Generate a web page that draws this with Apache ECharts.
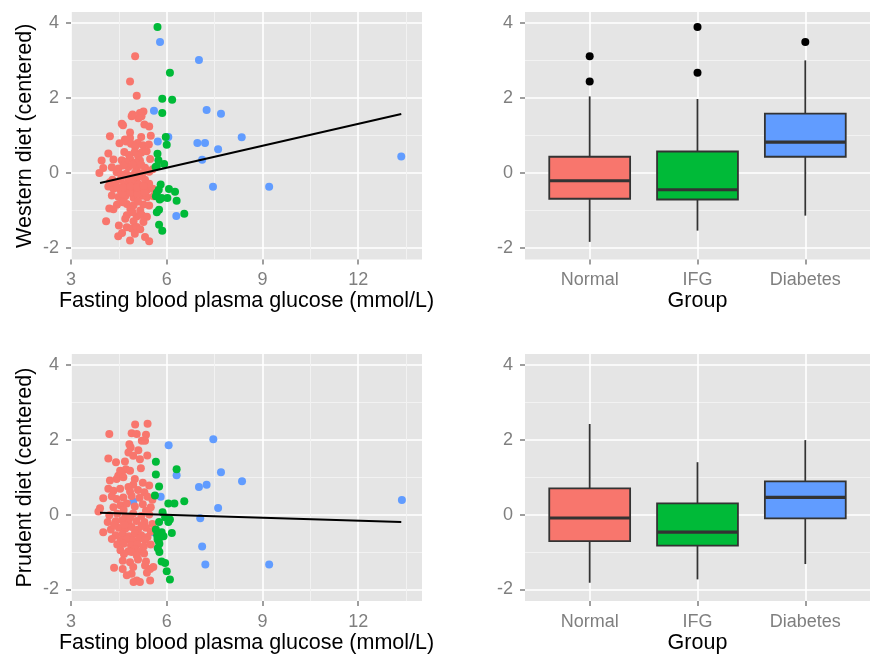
<!DOCTYPE html>
<html>
<head>
<meta charset="utf-8">
<script src="https://cdn.jsdelivr.net/npm/echarts@6/dist/echarts.min.js"></script>
<style>
html, body { margin: 0; padding: 0; background: #fff; }
#chart { width: 870px; height: 655px; }
</style>
</head>
<body>
<div id="chart"></div>
<script>
// groups + ggplot default hues
const groups = ['Normal', 'IFG', 'Diabetes']
const groupColors = ['#F8766D', '#00BA38', '#619CFF']

// tick labels
const glucoseTicks = [3, 6, 9, 12]
const glucoseMinor = [4.5, 7.5, 10.5, 13.5]
const dietTicks = [-2, 0, 2, 4]
const dietMinor = [-1, 1, 3]
const groupTicks = [1, 2, 3]

// Western diet vs glucose, [glucose, score]
const westernNormal = [
  [5.01, 3.11], [4.85, 2.44], [5.06, 2.06],
  [5.27, 1.64], [5.16, 1.60], [4.90, 1.51], [5.21, 1.51], [5.11, 1.46], [4.93, 1.56],
  [4.59, 1.31], [5.30, 1.29], [5.45, 1.24], [4.63, 1.27],
  [4.85, 1.08], [4.22, 0.98], [4.69, 0.89], [4.85, 0.93], [5.20, 0.96], [5.50, 0.99],
  [4.52, 0.79], [4.73, 0.84], [4.88, 0.78], [5.09, 0.80], [5.25, 0.74], [5.44, 0.76], [5.01, 0.70],
  [4.17, 0.52], [4.67, 0.56], [4.99, 0.55], [5.20, 0.54], [5.37, 0.58], [4.82, 0.48], [5.10, 0.46],
  [3.96, 0.33], [4.33, 0.36], [4.59, 0.34], [4.85, 0.38], [5.16, 0.33], [5.48, 0.37], [4.72, 0.30], [5.02, 0.28],
  [4.01, 0.13], [4.28, 0.15], [4.49, 0.12], [4.80, 0.16], [5.06, 0.12], [5.32, 0.14], [5.56, 0.10], [4.64, 0.20], [4.93, 0.22], [5.20, 0.22],
  [3.89, 0.00], [4.43, 0.02], [4.73, -0.02], [5.01, 0.01], [5.24, -0.01], [5.45, 0.03], [4.58, -0.05], [4.88, -0.08],
  [4.30, -0.18], [4.56, -0.17], [4.80, -0.19], [5.06, -0.16], [5.32, -0.18], [5.13, -0.10],
  [4.17, -0.36], [4.33, -0.42], [4.54, -0.45], [4.75, -0.43], [4.96, -0.47], [5.17, -0.44], [5.38, -0.46], [5.56, -0.42],
  [4.40, -0.28], [4.66, -0.30], [4.90, -0.27], [5.12, -0.31], [5.45, -0.29], [4.22, -0.25],
  [4.28, -0.60], [4.49, -0.64], [4.70, -0.62], [4.96, -0.66], [5.22, -0.61], [5.38, -0.65], [5.59, -0.62],
  [4.60, -0.55], [4.85, -0.53], [5.08, -0.56], [5.30, -0.52],
  [4.44, -0.37], [4.64, -0.39], [4.86, -0.36], [5.07, -0.38], [5.28, -0.35],
  [4.44, -0.85], [4.75, -0.83], [4.96, -0.86], [5.27, -0.84], [5.45, -0.87], [4.62, -0.78], [5.10, -0.76],
  [4.20, -0.95], [4.33, -0.97], [4.86, -0.96], [5.17, -1.00],
  [4.75, -1.13], [5.06, -1.16], [5.22, -1.12], [5.38, -1.17], [4.93, -1.05],
  [4.10, -1.29], [4.96, -1.29], [5.27, -1.31], [4.70, -1.22],
  [4.75, -1.45], [4.90, -1.48], [5.06, -1.44], [5.17, -1.50], [4.50, -1.40],
  [4.48, -1.69], [4.85, -1.80], [5.32, -1.71], [5.45, -1.82], [4.60, -1.60], [5.00, -1.62]
]
const westernIFG = [
  [5.71, 3.89], [6.10, 2.67], [5.86, 1.98], [6.17, 1.95], [5.86, 1.60],
  [5.97, 0.96], [6.00, 0.75], [5.71, 0.51], [5.74, 0.34], [5.92, 0.24], [5.65, 0.16], [5.69, 0.18],
  [5.81, -0.31], [6.07, -0.43], [6.26, -0.50], [5.69, -0.53], [5.66, -0.62], [5.84, -0.67], [6.02, -0.67],
  [5.75, -0.45], [6.31, -0.74], [5.78, -0.71], [6.55, -1.09], [5.76, -0.98], [5.69, -1.05],
  [5.76, -1.38], [5.86, -1.54]
]
const westernDiabetes = [
  [5.79, 3.49], [7.01, 3.01], [5.60, 1.66], [7.25, 1.68], [7.70, 1.58],
  [5.72, 0.84], [6.05, 0.96], [6.96, 0.80], [7.20, 0.80], [8.35, 0.95], [7.61, 0.63],
  [7.11, 0.35], [13.35, 0.44], [7.45, -0.37], [9.21, -0.37], [6.30, -1.15]
]
const westernFitX = [3.91, 13.35]
const westernFitY = [-0.27, 1.57]

// Prudent diet vs glucose
const prudentNormal = [
  [5.40, 2.43], [5.01, 2.41], [4.20, 2.15], [4.90, 2.17], [5.06, 2.15], [5.35, 2.13], [5.22, 1.97], [5.32, 1.97],
  [4.83, 1.88], [4.87, 1.79], [5.11, 1.72], [5.39, 1.58], [4.80, 1.66], [4.95, 1.57], [5.16, 1.48], [4.17, 1.50],
  [4.41, 1.40], [4.69, 1.42], [5.19, 1.24], [4.54, 1.17], [4.72, 1.21], [4.85, 1.17], [4.48, 1.04], [4.59, 1.09],
  [4.22, 0.91], [4.43, 0.95], [4.64, 1.00], [5.00, 0.95], [5.25, 0.85], [4.95, 0.80], [5.45, 0.78], [4.80, 0.74],
  [4.17, 0.69], [4.33, 0.64], [4.54, 0.69], [4.85, 0.62], [5.10, 0.66], [5.30, 0.60],
  [4.01, 0.44], [4.28, 0.49], [4.43, 0.42], [4.64, 0.46], [4.90, 0.50], [5.15, 0.45], [5.40, 0.48], [5.55, 0.40],
  [3.91, 0.17], [4.33, 0.20], [4.55, 0.25], [4.75, 0.30], [5.00, 0.22], [5.25, 0.28], [5.50, 0.20], [4.65, 0.12],
  [3.86, 0.08], [4.20, -0.02], [4.45, 0.02], [4.70, -0.05], [4.95, 0.03], [5.20, -0.04], [5.45, 0.00], [4.85, -0.08], [5.35, 0.10],
  [4.15, -0.20], [4.40, -0.18], [4.60, -0.15], [4.80, -0.22], [5.05, -0.17], [5.30, -0.20], [5.55, -0.25],
  [4.01, -0.47], [4.25, -0.40], [4.50, -0.35], [4.70, -0.38], [4.90, -0.33], [5.10, -0.40], [5.35, -0.35], [5.50, -0.45],
  [4.40, -0.55], [4.62, -0.52], [4.82, -0.58], [5.00, -0.50], [5.20, -0.55], [5.40, -0.60],
  [4.28, -0.65], [4.55, -0.68], [4.75, -0.66], [4.95, -0.69], [5.15, -0.64], [5.32, -0.68], [4.68, -0.28], [5.22, -0.30], [4.35, -0.28],
  [4.45, -0.80], [4.65, -0.78], [4.88, -0.82], [5.08, -0.79], [5.28, -0.85], [5.50, -0.80],
  [4.55, -0.95], [4.80, -0.98], [5.00, -0.92], [5.20, -0.97],
  [4.66, -1.05], [4.90, -1.00], [5.06, -1.09], [5.29, -1.04],
  [4.62, -1.23], [4.85, -1.27], [5.10, -1.20], [5.35, -1.25],
  [4.35, -1.42], [4.62, -1.45], [5.32, -1.36], [5.48, -1.45], [5.58, -1.40], [4.95, -1.40],
  [4.90, -1.58], [5.06, -1.76], [5.48, -1.76], [4.96, -1.80], [5.16, -1.80], [5.38, -1.55], [4.75, -1.62]
]
const prudentIFG = [
  [5.66, 1.41], [6.31, 1.21], [5.66, 1.07], [5.76, 0.75], [5.63, 0.51],
  [6.05, 0.30], [6.24, 0.30], [6.55, 0.36], [5.87, 0.06], [5.95, -0.07], [6.05, -0.20], [5.76, -0.20], [6.10, -0.13],
  [5.84, -0.47], [6.16, -0.49], [5.66, -0.40], [5.70, -0.55], [5.80, -0.60], [5.74, -0.70], [5.90, -0.58],
  [5.71, -0.65], [5.77, -0.78], [5.72, -0.90], [5.77, -1.00],
  [5.84, -1.25], [5.95, -1.29], [6.00, -1.51], [6.10, -1.73]
]
const prudentDiabetes = [
  [7.46, 2.01], [6.06, 1.85], [7.70, 1.13], [6.31, 1.05], [8.36, 0.89], [7.01, 0.74], [7.25, 0.80],
  [5.81, 0.48], [13.37, 0.39], [7.61, 0.18], [4.95, 0.35], [7.05, -0.10], [5.58, -0.47],
  [7.11, -0.85], [7.21, -1.33], [9.21, -1.33]
]
const prudentFitX = [3.91, 13.35]
const prudentFitY = [0.05, -0.20]

// boxplot stats per group: [lower whisker, Q1, median, Q3, upper whisker]
const westernBoxNormal = [-1.84, -0.69, -0.21, 0.43, 2.04]
const westernBoxIFG = [-1.54, -0.71, -0.45, 0.57, 1.97]
const westernBoxDiabetes = [-1.14, 0.43, 0.82, 1.58, 3.00]
const westernOutliers = [[1, 3.11], [1, 2.44], [2, 3.89], [2, 2.67], [3, 3.49]]

const prudentBoxNormal = [-1.82, -0.71, -0.09, 0.70, 2.42]
const prudentBoxIFG = [-1.73, -0.83, -0.47, 0.30, 1.40]
const prudentBoxDiabetes = [-1.32, -0.10, 0.46, 0.89, 1.99]

const font = "'Liberation Sans', Arial, Helvetica, sans-serif"
const tickGrey = '#7F7F7F'

function majorAxis (gridIndex, min, max, ticks, extra) {
  return Object.assign({
    type: 'value',
    gridIndex: gridIndex,
    min: min,
    max: max,
    axisLine: { show: false, onZero: false },
    axisTick: { show: true, length: 5, customValues: ticks, lineStyle: { color: tickGrey, width: 1.5 } },
    axisLabel: { customValues: ticks, margin: 12, color: tickGrey, fontSize: 18, fontFamily: font },
    splitLine: { show: true, lineStyle: { color: '#FFFFFF', width: 1.6 } },
    nameLocation: 'middle',
    nameTextStyle: { color: '#000', fontSize: 21.5, fontFamily: font }
  }, extra || {})
}

function minorAxis (gridIndex, min, max, ticks) {
  return {
    type: 'value',
    gridIndex: gridIndex,
    min: min,
    max: max,
    axisLine: { show: false, onZero: false },
    axisTick: { show: false, customValues: ticks },
    axisLabel: { show: false, customValues: ticks },
    splitLine: { show: true, lineStyle: { color: '#F2F2F2', width: 1 } }
  }
}

const yMin = -2.31
const yMax = 4.29

function boxItem (params, api) {
  const x = api.value(0)
  const lo = api.coord([x, api.value(1)])
  const q1 = api.coord([x, api.value(2)])
  const med = api.coord([x, api.value(3)])
  const q3 = api.coord([x, api.value(4)])
  const hi = api.coord([x, api.value(5)])
  const half = api.size([0.75, 0])[0] / 2
  const c = med[0]
  const edge = { stroke: '#333333', lineWidth: 1.8 }
  return {
    type: 'group',
    children: [
      { type: 'line', shape: { x1: c, y1: hi[1], x2: c, y2: q3[1] }, style: edge },
      { type: 'line', shape: { x1: c, y1: q1[1], x2: c, y2: lo[1] }, style: edge },
      { type: 'rect', shape: { x: c - half, y: q3[1], width: half * 2, height: q1[1] - q3[1] },
        style: { fill: groupColors[params.dataIndex], stroke: '#333333', lineWidth: 1.8 } },
      { type: 'line', shape: { x1: c - half, y1: med[1], x2: c + half, y2: med[1] },
        style: { stroke: '#333333', lineWidth: 3.2 } }
    ]
  }
}

function scatter (data, color, xi, yi) {
  return {
    type: 'scatter', xAxisIndex: xi, yAxisIndex: yi, data: data,
    symbolSize: 8, itemStyle: { color: color, opacity: 1 }, silent: true
  }
}

function fitLine (xs, ys, xi, yi) {
  return {
    type: 'line', xAxisIndex: xi, yAxisIndex: yi,
    data: xs.map((x, i) => [x, ys[i]]),
    symbol: 'none', lineStyle: { color: '#000', width: 2 }, silent: true
  }
}

function boxSeries (boxes, xi, yi) {
  return {
    type: 'custom', xAxisIndex: xi, yAxisIndex: yi,
    renderItem: boxItem,
    encode: { x: 0, y: [1, 2, 3, 4, 5] },
    data: boxes.map((b, i) => [i + 1].concat(b)),
    silent: true
  }
}

const gridBase = { show: true, backgroundColor: '#E5E5E5', borderWidth: 0, height: 247.5 }
const glucoseName = 'Fasting blood plasma glucose (mmol/L)'
const groupLabel = { formatter: v => groups[Math.round(v) - 1] }

const chart = echarts.init(document.getElementById('chart'))
chart.setOption({
  animation: false,
  textStyle: { fontFamily: font },
  grid: [
    Object.assign({ left: 71, top: 12, width: 351 }, gridBase),
    Object.assign({ left: 71, top: 354, width: 351 }, gridBase),
    Object.assign({ left: 525, top: 12, width: 352 }, gridBase),
    Object.assign({ left: 525, top: 354, width: 352 }, gridBase)
  ],
  xAxis: [
    majorAxis(0, 3, 14, glucoseTicks, { name: glucoseName, nameGap: 28 }),
    minorAxis(0, 3, 14, glucoseMinor),
    majorAxis(1, 3, 14, glucoseTicks, { name: glucoseName, nameGap: 28 }),
    minorAxis(1, 3, 14, glucoseMinor),
    majorAxis(2, 0.4, 3.6, groupTicks, { name: 'Group', nameGap: 28 }),
    majorAxis(3, 0.4, 3.6, groupTicks, { name: 'Group', nameGap: 28 })
  ],
  yAxis: [
    majorAxis(0, yMin, yMax, dietTicks, { name: 'Western diet (centered)', nameGap: 35 }),
    minorAxis(0, yMin, yMax, dietMinor),
    majorAxis(1, yMin, yMax, dietTicks, { name: 'Prudent diet (centered)', nameGap: 35 }),
    minorAxis(1, yMin, yMax, dietMinor),
    majorAxis(2, yMin, yMax, dietTicks),
    minorAxis(2, yMin, yMax, dietMinor),
    majorAxis(3, yMin, yMax, dietTicks),
    minorAxis(3, yMin, yMax, dietMinor)
  ],
  series: [
    scatter(westernDiabetes, groupColors[2], 0, 0),
    scatter(westernNormal, groupColors[0], 0, 0),
    scatter(westernIFG, groupColors[1], 0, 0),
    fitLine(westernFitX, westernFitY, 0, 0),
    scatter(prudentDiabetes, groupColors[2], 2, 2),
    scatter(prudentNormal, groupColors[0], 2, 2),
    scatter(prudentIFG, groupColors[1], 2, 2),
    fitLine(prudentFitX, prudentFitY, 2, 2),
    boxSeries([westernBoxNormal, westernBoxIFG, westernBoxDiabetes], 4, 4),
    scatter(westernOutliers, '#000000', 4, 4),
    boxSeries([prudentBoxNormal, prudentBoxIFG, prudentBoxDiabetes], 5, 6)
  ]
})
// group names under the box panels
chart.setOption({ xAxis: [{}, {}, {}, {}, { axisLabel: groupLabel }, { axisLabel: groupLabel }] })
</script>
</body>
</html>
